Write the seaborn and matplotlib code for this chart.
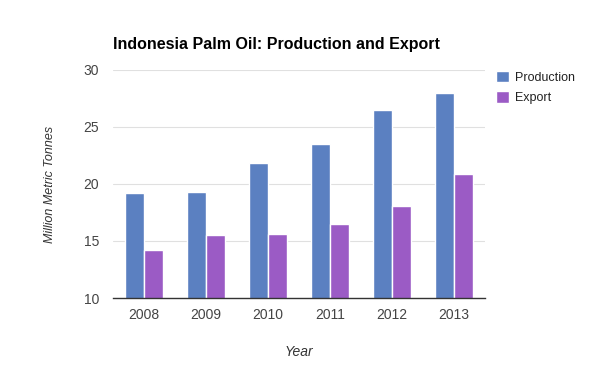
import matplotlib
matplotlib.use("Agg")
import matplotlib.pyplot as plt
import seaborn as sns
import pandas as pd

years = ["2008", "2009", "2010", "2011", "2012", "2013"]
production = [19.2, 19.3, 21.8, 23.5, 26.5, 28.0]
export = [14.2, 15.5, 15.6, 16.5, 18.1, 20.9]
series = ["Production", "Export"]
colors = ["#5b80c1", "#9b5bc5"]

df = pd.DataFrame({
    "Year": years * 2,
    "Value": production + export,
    "Series": ["Production"] * len(years) + ["Export"] * len(years),
})

sns.set_style("white")
plt.rcParams["font.family"] = ["Liberation Sans", "DejaVu Sans"]

fig = plt.figure(figsize=(5.98, 3.69), dpi=100)
ax = fig.add_axes([113 / 598, 1 - 298 / 369, 372 / 598, 228 / 369])

sns.barplot(data=df, x="Year", y="Value", hue="Series", hue_order=series,
            palette=colors, width=0.62, gap=0.05, saturation=1, ax=ax)

ax.set_ylim(10, 30)
ax.set_yticks([10, 15, 20, 25, 30])
ax.yaxis.grid(True, color="#e0e0e0", linewidth=0.8)
ax.set_axisbelow(True)
for s in ["top", "right", "left"]:
    ax.spines[s].set_visible(False)
ax.spines["bottom"].set_color("#333333")
ax.spines["bottom"].set_linewidth(1.0)
ax.tick_params(axis="both", length=0, labelsize=10, colors="#444444")
ax.tick_params(axis="y", pad=10)
ax.tick_params(axis="x", pad=7)

ax.set_xlabel("Year", fontsize=10, style="italic", color="#333333", labelpad=17)
ax.set_ylabel("Million Metric Tonnes", fontsize=9, style="italic", color="#333333", labelpad=20)

fig.text(113 / 598, 1 - 44 / 369, "Indonesia Palm Oil: Production and Export",
         fontsize=11.5, fontweight="bold", color="#000000", va="center", ha="left")

handles, labels = ax.get_legend_handles_labels()
ax.legend(handles, labels, loc="upper left", bbox_to_anchor=(1.0, 1.045),
          frameon=False, fontsize=9, handlelength=1.0, handleheight=1.0,
          handletextpad=0.5, labelspacing=0.6, labelcolor="#222222")

fig.savefig("out.png", dpi=100)
